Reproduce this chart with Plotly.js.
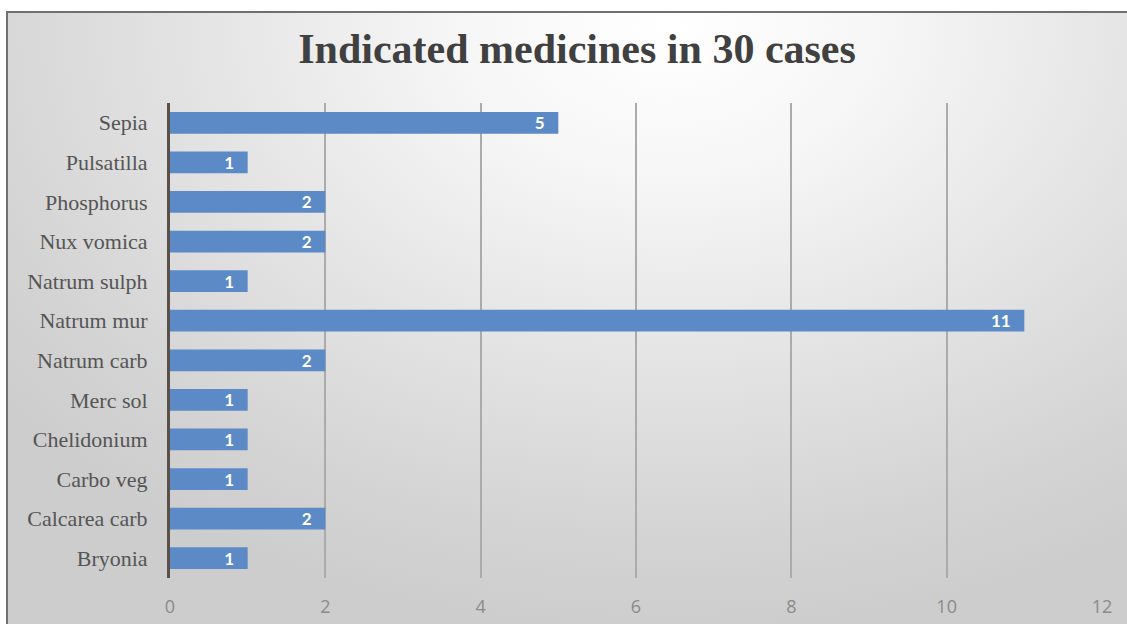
<!DOCTYPE html>
<html>
<head>
<meta charset="utf-8">
<script src="https://cdn.plot.ly/plotly-3.0.1.min.js"></script>
<style>
  html, body { margin: 0; padding: 0; width: 1127px; height: 624px; overflow: hidden; background: #ffffff; }
  #frame {
    position: absolute; left: 6px; top: 11px; width: 1140px; height: 640px;
    border-left: 2px solid #707070; border-top: 2px solid #707070;
    background: radial-gradient(ellipse 75% 95% at 58% 2%, #ffffff 0%, #f6f6f6 25%, #e4e4e4 55%, #d3d3d3 85%, #cdcdcd 100%);
  }
  #chart { position: absolute; left: 0; top: 0; width: 1127px; height: 624px; }
</style>
</head>
<body>
<div id="frame"></div>
<div id="chart"></div>
<script>
const categories = ["Bryonia", "Calcarea carb", "Carbo veg", "Chelidonium", "Merc sol", "Natrum carb",
                    "Natrum mur", "Natrum sulph", "Nux vomica", "Phosphorus", "Pulsatilla", "Sepia"];
const values = [1, 2, 1, 1, 1, 2, 11, 1, 2, 2, 1, 5];
const xTicks = [0, 2, 4, 6, 8, 10, 12];
const titleText = "Indicated medicines in 30 cases";

const trace = {
  type: "bar",
  orientation: "h",
  y: categories,
  x: values,
  text: values.map(v => String(v) + "\u2002\u2009"),
  textposition: "inside",
  insidetextanchor: "end",
  textangle: 0,
  constraintext: "none",
  textfont: { family: "Lato, 'Open Sans', sans-serif", size: 17, color: "#ffffff", weight: "bold" },
  marker: { color: "#5b8ac7" },
  hoverinfo: "none"
};

const layout = {
  width: 1127,
  height: 624,
  paper_bgcolor: "rgba(0,0,0,0)",
  plot_bgcolor: "rgba(0,0,0,0)",
  margin: { l: 170, r: 25, t: 103, b: 46 },
  bargap: 0.45,
  showlegend: false,
  title: {
    text: "<b>" + titleText + "</b>",
    font: { family: "'Liberation Serif', 'Times New Roman', serif", size: 42, color: "#404040" },
    x: 0.512, xanchor: "center",
    y: 0.922, yanchor: "middle", xref: "container", yref: "container"
  },
  xaxis: {
    range: [0, 12],
    tickvals: xTicks,
    ticktext: xTicks.map(String),
    showgrid: true,
    gridcolor: "#ababab",
    gridwidth: 2,
    zeroline: false,
    showline: false,
    ticks: "",
    ticklabelstandoff: 16,
    tickfont: { family: "'Open Sans', Lato, sans-serif", size: 18, color: "#8a8a8a" },
    fixedrange: true
  },
  yaxis: {
    type: "category",
    categoryorder: "array",
    categoryarray: categories,
    range: [-0.5, categories.length - 0.5],
    showgrid: false,
    zeroline: false,
    showline: true,
    linecolor: "#5a5048",
    linewidth: 3,
    ticks: "",
    ticklabelstandoff: 15,
    tickfont: { family: "'Liberation Serif', 'Times New Roman', serif", size: 22, color: "#555555" },
    fixedrange: true
  }
};

Plotly.newPlot("chart", [trace], layout, { displayModeBar: false, staticPlot: true });
</script>
</body>
</html>
